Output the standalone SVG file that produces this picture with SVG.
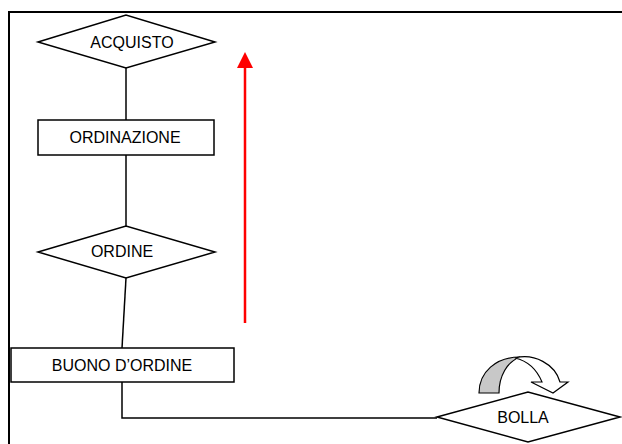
<svg xmlns="http://www.w3.org/2000/svg" width="622" height="444" viewBox="0 0 622 444">
  <style>
    .shape { fill: #ffffff; stroke: #000000; stroke-width: 1.5; }
    .link { fill: none; stroke: #000000; stroke-width: 1.5; }
    .label { font-family: "Liberation Sans", Arial, sans-serif; font-size: 16px; fill: #000000; text-anchor: middle; }
  </style>

  <rect x="0" y="0" width="622" height="444" fill="#ffffff"/>

  <!-- outer frame (left and top edges) -->
  <path d="M9,444 V12 H622" fill="none" stroke="#000000" stroke-width="2"/>

  <!-- connectors -->
  <g id="connectors">
    <line class="link" x1="126" y1="68" x2="126" y2="120"/>
    <line class="link" x1="126" y1="155" x2="126" y2="226"/>
    <line class="link" x1="126" y1="278" x2="122" y2="348"/>
    <polyline class="link" points="122,382 122,418 437,418"/>
    <line x1="245" y1="323" x2="245" y2="66" stroke="#ff0000" stroke-width="2.5"/>
    <path d="M237,68 L245,52 L253,68 Z" fill="#ff0000"/>
  </g>

  <g id="acquisto">
    <polygon class="shape" points="38,42 126,15 215,42 126,68"/>
    <text class="label" x="132" y="48">ACQUISTO</text>
  </g>

  <g id="ordinazione">
    <rect class="shape" x="38" y="120" width="176" height="35"/>
    <text class="label" x="125" y="143">ORDINAZIONE</text>
  </g>

  <g id="ordine">
    <polygon class="shape" points="38,252 126,226 215,252 126,278"/>
    <text class="label" x="122" y="257">ORDINE</text>
  </g>

  <g id="buono">
    <rect class="shape" x="11" y="348" width="223" height="34"/>
    <text class="label" x="122" y="371">BUONO D’ORDINE</text>
  </g>

  <g id="bolla">
    <polygon class="shape" points="437,417 528,392 620,417 528,442"/>
    <text class="label" x="523" y="423">BOLLA</text>
  </g>

  <!-- curved loop arrow above BOLLA -->
  <g id="loop">
    <path d="M479,393 C479,372 496,357 520,357 C507,362 499,376 499,393 Z" fill="#c8c8c8" stroke="#000000" stroke-width="1.2"/>
    <path d="M515,358 C534,353 555,364 560,382 L568,382 L553,393 L531,382 L542,382 C537,370 528,361 515,358 Z" fill="#ffffff" stroke="#000000" stroke-width="1.2"/>
  </g>
</svg>
